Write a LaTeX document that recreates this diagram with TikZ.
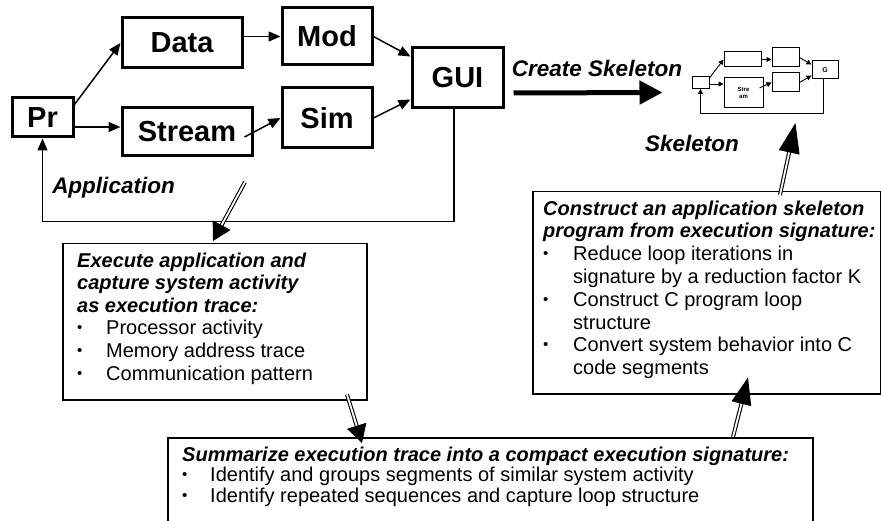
\documentclass[tikz,border=0pt]{standalone}
\usepackage{fontspec}
\setmainfont{Liberation Sans}
\usetikzlibrary{arrows.meta,calc}
\newcommand{\bi}{\bfseries\itshape}
\newcommand{\bul}{\raisebox{2pt}{\fontsize{15}{15}\selectfont\textbullet}}
\begin{document}
\begin{tikzpicture}[x=1pt,y=-1pt,
  big/.style={draw, line width=3pt, inner sep=0pt, font=\fontsize{29}{32}\selectfont\bfseries},
  tbox/.style={draw, line width=1.5pt, inner sep=0pt, anchor=north west},
  ttext/.style={anchor=north west, inner sep=0pt},
  arr/.style={line width=1.5pt, -{Triangle[length=12pt,width=10pt]}},
  lbl/.style={font=\fontsize{22.5}{25}\selectfont\bfseries\itshape},
  sbox/.style={draw, line width=1pt, inner sep=0pt},
  sarr/.style={line width=0.9pt, -{Triangle[length=5pt,width=5pt]}},
  dbl/.style={draw=black, double=white, double distance=1.8pt, line width=1.1pt},
]
\useasboundingbox (0,0) rectangle (881,521);

% main application graph
\node[big, minimum width=61pt, minimum height=39pt] (pr) at (42.5,117.5) {Pr};
\node[big, minimum width=120pt, minimum height=50pt] (data) at (182,43) {Data};
\node[big, minimum width=90pt, minimum height=57pt] (mod) at (327,36.5) {Mod};
\node[big, minimum width=130pt, minimum height=48pt] (stream) at (187,131.5) {Stream};
\node[big, minimum width=90pt, minimum height=60pt] (sim) at (327,118) {Sim};
\node[big, minimum width=91pt, minimum height=60pt] (gui) at (457.5,78) {GUI};

\draw[arr] ($(pr.north east)+(0,8)$) -- (data.west);
\draw[arr] ($(pr.east)+(0,9.5)$) -- ($(stream.west)+(0,-4.5)$);
\draw[arr] (data.east |- mod.west) -- (mod.west);
\draw[arr] (mod.east) -- ($(gui.north west)+(0,10)$);
\draw[arr] ($(stream.east)+(-9,5.5)$) -- (sim.west);
\draw[arr] (sim.east) -- ($(gui.south west)+(0,-10)$);
\draw[arr] ($(gui.south)+(-3.5,0)$) -- ++(0,112) -| (pr.south);

\node[lbl] (app) at (113.5,188) {Application};
\node[lbl] (create) at (597,68) {Create Skeleton};
\node[lbl] (skel) at (692,143) {Skeleton};

% skeleton graph
\node[sbox, minimum width=17pt, minimum height=12pt] (spr) at (700.5,82.5) {};
\node[sbox, minimum width=37pt, minimum height=15pt] (sdata) at (742.5,59.5) {};
\node[sbox, minimum width=27pt, minimum height=19pt] (smod) at (785.5,57.5) {};
\node[sbox, minimum width=39pt, minimum height=30pt, font=\fontsize{6}{7}\selectfont\bfseries, align=center] (sstream) at (743.5,93) {Stre\\am};
\node[sbox, minimum width=27pt, minimum height=19pt] (ssim) at (785.5,82.5) {};
\node[sbox, minimum width=26pt, minimum height=18pt, font=\fontsize{7}{8}\selectfont\bfseries] (sgui) at (825,70) {G};

\draw[sarr] ($(spr.north east)+(0,2)$) -- (sdata.west);
\draw[sarr] ($(spr.east)+(0,1.5)$) -- ($(sstream.west)+(0,-9)$);
\draw[sarr] (sdata.east) -- (smod.west |- sdata.east);
\draw[sarr] (smod.east) -- ($(sgui.north west)+(0,4)$);
\draw[sarr] ($(sstream.east)+(-4,-5)$) -- (ssim.west);
\draw[sarr] (ssim.east) -- ($(sgui.south west)+(0,-4)$);
\draw[sarr] ($(sgui.south)+(-2,0)$) -- ++(0,34) -| (spr.south);

\draw[line width=5pt, -{Triangle[length=23pt,width=23pt]}] ($(gui.east)+(9,15)$) -- ($(spr.west)+(-29,10)$);

% text boxes
\node[tbox, minimum width=304pt, minimum height=156pt] (exec) at (62,243) {};
\node[tbox, minimum width=348pt, minimum height=202pt] (cons) at (532,191) {};
\node[tbox, minimum width=645pt, minimum height=95pt] (summ) at (167,437) {};

\node[ttext, font=\fontsize{20}{22.6}\selectfont] (exectext) at (77,251) {%
\begin{tabular}{@{}p{29pt}@{}l@{}}
\multicolumn{2}{@{}l@{}}{\bi Execute application and}\\
\multicolumn{2}{@{}l@{}}{\bi capture system activity}\\
\multicolumn{2}{@{}l@{}}{\bi as execution trace:}\\
\bul & Processor activity\\
\bul & Memory address trace\\
\bul & Communication pattern
\end{tabular}};

\node[ttext, font=\fontsize{20}{22.8}\selectfont] (constext) at (543,199) {%
\begin{tabular}{@{}p{30pt}@{}l@{}}
\multicolumn{2}{@{}l@{}}{\bi Construct an application skeleton}\\
\multicolumn{2}{@{}l@{}}{\bi program from execution signature:}\\
\bul & Reduce loop iterations in\\
 & signature by a reduction factor K\\
\bul & Construct C program loop\\
 & structure\\
\bul & Convert system behavior into C\\
 & code segments
\end{tabular}};

\node[ttext, font=\fontsize{20}{20.5}\selectfont] (summtext) at (182,446.5) {%
\begin{tabular}{@{}p{28pt}@{}l@{}}
\multicolumn{2}{@{}l@{}}{\bi Summarize execution trace into a compact execution signature:}\\
\bul & Identify and groups segments of similar system activity\\
\bul & Identify repeated sequences and capture loop structure
\end{tabular}};

% double-line process arrows
\coordinate (a1s) at (245,182);
\draw[dbl, -{Triangle[length=18pt,width=20pt]}] (a1s) -- ($(exec.north west)+(151,-2)$);
\draw[dbl, -{Triangle[length=18pt,width=20pt]}] ($(exec.south west)+(285,-6)$) -- ($(summ.north west)+(195,6)$);
\draw[dbl, -{Triangle[length=27pt,width=20pt]}] ($(summ.north west)+(566,0)$) -- ($(cons.south west)+(216,-17)$);
\draw[dbl, -{Triangle[length=30pt,width=21pt]}] ($(cons.north west)+(248,4)$) -- ($(skel.east)+(53,-20)$);
\end{tikzpicture}
\end{document}
